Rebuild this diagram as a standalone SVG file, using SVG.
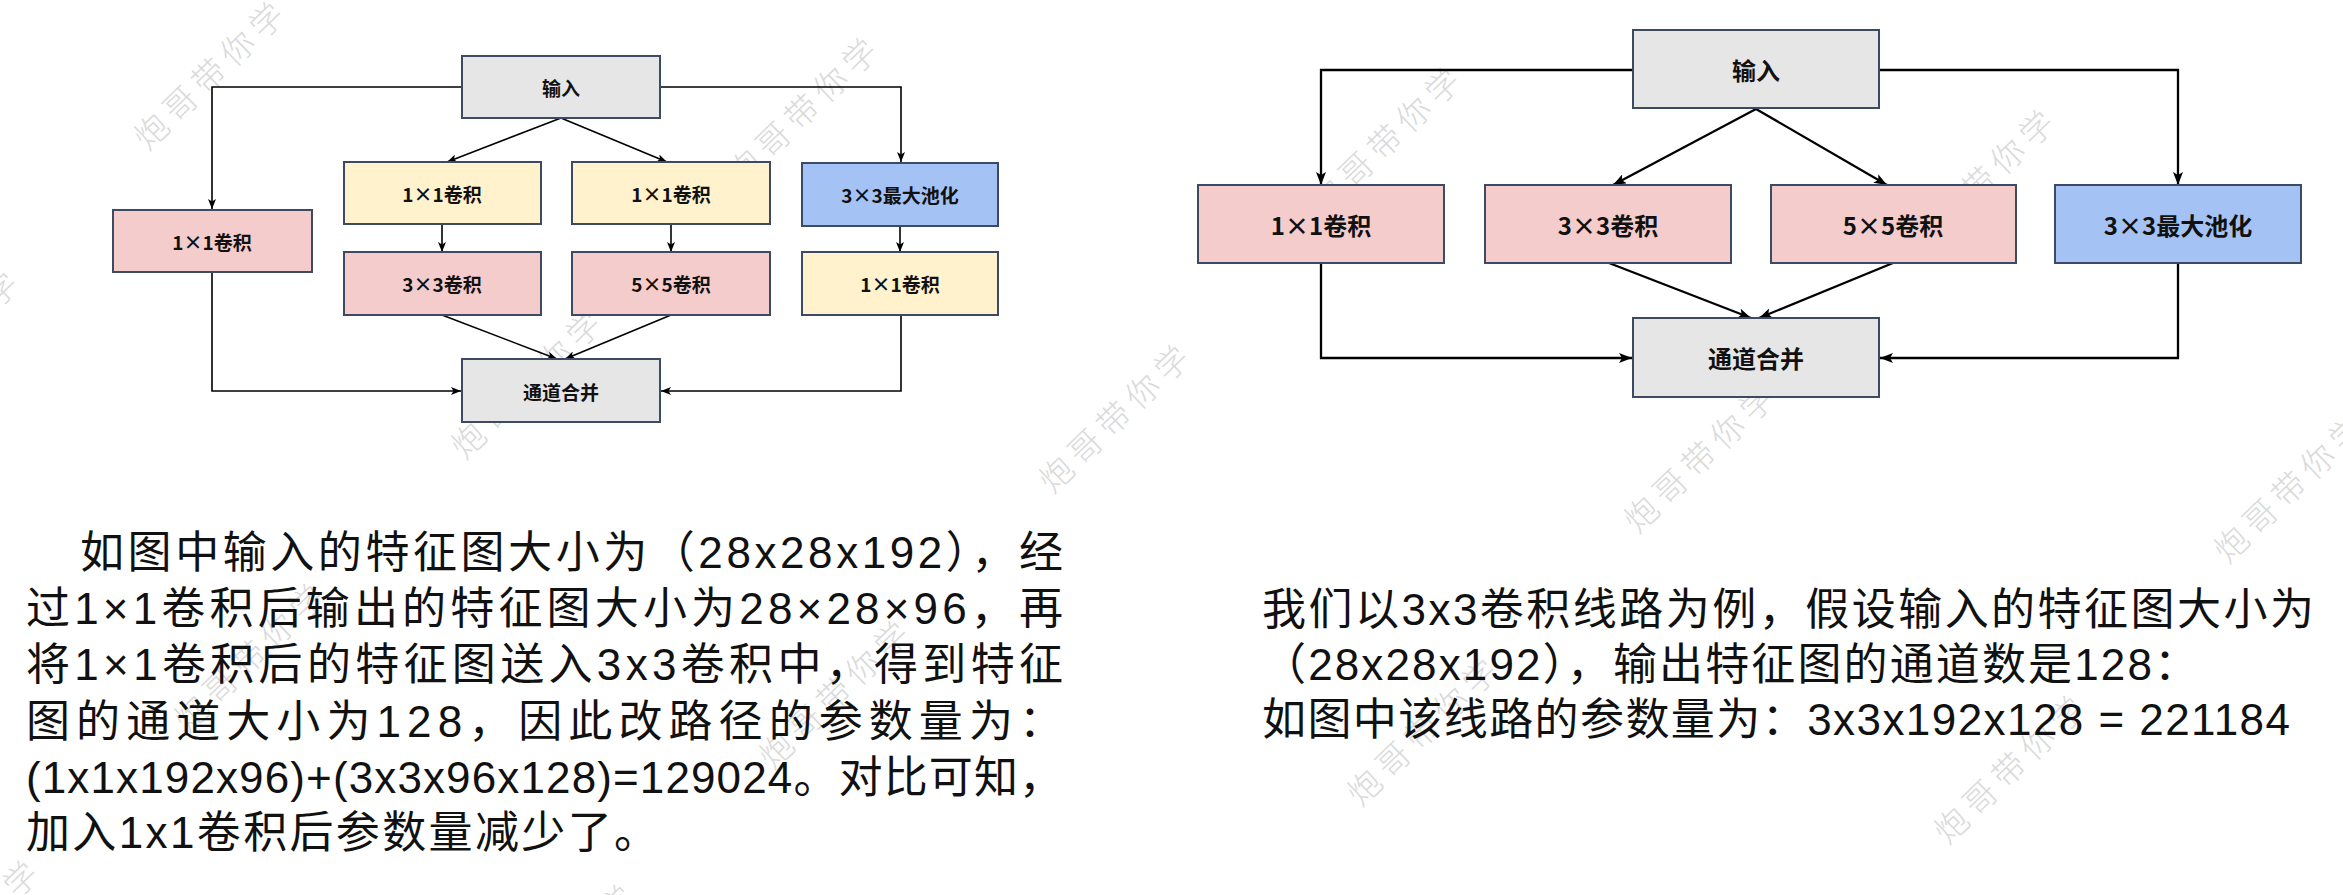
<svg xmlns="http://www.w3.org/2000/svg" width="2343" height="895" viewBox="0 0 2343 895">
<style>
.bx{stroke:#3d4a64;stroke-width:2}
.gray{fill:#e6e6e6}.pink{fill:#f4cccc}.yel{fill:#fff2cc}.blue{fill:#a4c2f4}
.lb{font-family:"Noto Sans CJK SC","Liberation Sans",sans-serif;font-weight:bold;fill:#111;text-anchor:middle;dominant-baseline:central}
.s{font-size:19px}.b{font-size:24px}
.ln{fill:none;stroke:#000}
.l1{stroke-width:1.6;marker-end:url(#a1)}
.l2{stroke-width:2.3;marker-end:url(#a2)}
.p{font-family:"Liberation Sans","Noto Sans CJK SC",sans-serif;font-size:44px;fill:#111}
.wm{font-family:"Noto Sans CJK SC",sans-serif;font-weight:300;font-size:33px;letter-spacing:7px;fill:#dadada;text-anchor:middle;dominant-baseline:central}
</style>
<defs>
<marker id="a1" markerUnits="userSpaceOnUse" markerWidth="11" markerHeight="8" refX="10" refY="4" orient="auto"><path d="M0,0 L10,4 L0,8 L2.5,4 z" fill="#000"/></marker>
<marker id="a2" markerUnits="userSpaceOnUse" markerWidth="14" markerHeight="10" refX="13" refY="5" orient="auto"><path d="M0,0 L13,5 L0,10 L3,5 z" fill="#000"/></marker>
</defs>
<rect width="2343" height="895" fill="#fff"/>

<g id="watermarks">
<text class="wm" x="210" y="72" transform="rotate(-44 210 72)">炮哥带你学</text>
<text class="wm" x="803" y="108" transform="rotate(-44 803 108)">炮哥带你学</text>
<text class="wm" x="1386" y="138" transform="rotate(-44 1386 138)">炮哥带你学</text>
<text class="wm" x="1980" y="180" transform="rotate(-44 1980 180)">炮哥带你学</text>
<text class="wm" x="-56" y="341" transform="rotate(-44 -56 341)">炮哥带你学</text>
<text class="wm" x="527" y="381" transform="rotate(-44 527 381)">炮哥带你学</text>
<text class="wm" x="1115" y="415" transform="rotate(-44 1115 415)">炮哥带你学</text>
<text class="wm" x="1700" y="455" transform="rotate(-44 1700 455)">炮哥带你学</text>
<text class="wm" x="2290" y="485" transform="rotate(-44 2290 485)">炮哥带你学</text>
<text class="wm" x="250" y="654" transform="rotate(-44 250 654)">炮哥带你学</text>
<text class="wm" x="835" y="691" transform="rotate(-44 835 691)">炮哥带你学</text>
<text class="wm" x="1423" y="728" transform="rotate(-44 1423 728)">炮哥带你学</text>
<text class="wm" x="2010" y="766" transform="rotate(-44 2010 766)">炮哥带你学</text>
<text class="wm" x="-36" y="931" transform="rotate(-44 -36 931)">炮哥带你学</text>
<text class="wm" x="560" y="955" transform="rotate(-44 560 955)">炮哥带你学</text>
</g>

<g id="connectors">
<path class="ln l1" d="M462,87 H212 V209"/>
<path class="ln l1" d="M660,87 H901 V162"/>
<path class="ln l1" d="M561,118 L447,162"/>
<path class="ln l1" d="M561,118 L667,162"/>
<path class="ln l1" d="M442,224 V252"/>
<path class="ln l1" d="M671,224 V252"/>
<path class="ln l1" d="M900,226 V252"/>
<path class="ln l1" d="M442,315 L557,359"/>
<path class="ln l1" d="M671,315 L565,359"/>
<path class="ln l1" d="M212,272 V391 H461"/>
<path class="ln l1" d="M901,315 V391 H661"/>

<path class="ln l2" d="M1633,70 H1321 V185"/>
<path class="ln l2" d="M1879,70 H2178 V185"/>
<path class="ln l2" d="M1756,109 L1613,185"/>
<path class="ln l2" d="M1756,109 L1887,185"/>
<path class="ln l2" d="M1609,263 L1751,318"/>
<path class="ln l2" d="M1893,263 L1759,318"/>
<path class="ln l2" d="M1321,263 V358 H1632"/>
<path class="ln l2" d="M2178,263 V358 H1880"/>
</g>

<g id="in1"><rect class="bx gray" x="462" y="56" width="198" height="62"/><text class="lb s" x="561" y="87">输入</text></g>
<g id="l1x1"><rect class="bx pink" x="113" y="210" width="199" height="62"/><text class="lb s" x="212" y="241">1×1卷积</text></g>
<g id="y1"><rect class="bx yel" x="344" y="162" width="197" height="62"/><text class="lb s" x="442" y="193">1×1卷积</text></g>
<g id="y2"><rect class="bx yel" x="572" y="162" width="198" height="62"/><text class="lb s" x="671" y="193">1×1卷积</text></g>
<g id="bpool"><rect class="bx blue" x="802" y="163" width="196" height="63"/><text class="lb s" x="900" y="194">3×3最大池化</text></g>
<g id="p3"><rect class="bx pink" x="344" y="252" width="197" height="63"/><text class="lb s" x="442" y="283">3×3卷积</text></g>
<g id="p5"><rect class="bx pink" x="572" y="252" width="198" height="63"/><text class="lb s" x="671" y="283">5×5卷积</text></g>
<g id="y3"><rect class="bx yel" x="802" y="252" width="196" height="63"/><text class="lb s" x="900" y="283">1×1卷积</text></g>
<g id="m1"><rect class="bx gray" x="462" y="359" width="198" height="63"/><text class="lb s" x="561" y="391">通道合并</text></g>

<g id="in2"><rect class="bx gray" x="1633" y="30" width="246" height="78"/><text class="lb b" x="1756" y="69">输入</text></g>
<g id="r1"><rect class="bx pink" x="1198" y="185" width="246" height="78"/><text class="lb b" x="1321" y="224">1×1卷积</text></g>
<g id="r3"><rect class="bx pink" x="1485" y="185" width="246" height="78"/><text class="lb b" x="1608" y="224">3×3卷积</text></g>
<g id="r5"><rect class="bx pink" x="1771" y="185" width="245" height="78"/><text class="lb b" x="1893" y="224">5×5卷积</text></g>
<g id="rpool"><rect class="bx blue" x="2055" y="185" width="246" height="78"/><text class="lb b" x="2178" y="224">3×3最大池化</text></g>
<g id="m2"><rect class="bx gray" x="1633" y="318" width="246" height="79"/><text class="lb b" x="1756" y="357">通道合并</text></g>

<g id="text-left">
<text class="p" x="80" y="568" textLength="983" lengthAdjust="spacing">如图中输入的特征图大小为（28x28x192），经</text>
<text class="p" x="26" y="624" textLength="1037" lengthAdjust="spacing">过1×1卷积后输出的特征图大小为28×28×96，再</text>
<text class="p" x="26" y="680" textLength="1037" lengthAdjust="spacing">将1×1卷积后的特征图送入3x3卷积中，得到特征</text>
<text class="p" x="26" y="737" textLength="1037" lengthAdjust="spacing">图的通道大小为128，因此改路径的参数量为：</text>
<text class="p" x="26" y="793" textLength="1037" lengthAdjust="spacing">(1x1x192x96)+(3x3x96x128)=129024。对比可知，</text>
<text class="p" x="26" y="848" textLength="632" lengthAdjust="spacing">加入1x1卷积后参数量减少了。</text>
</g>
<g id="text-right">
<text class="p" x="1262" y="625" textLength="1052" lengthAdjust="spacing">我们以3x3卷积线路为例，假设输入的特征图大小为</text>
<text class="p" x="1262" y="680" textLength="936" lengthAdjust="spacing">（28x28x192），输出特征图的通道数是128：</text>
<text class="p" x="1262" y="735" textLength="1028" lengthAdjust="spacing">如图中该线路的参数量为：3x3x192x128 = 221184</text>
</g>
</svg>
